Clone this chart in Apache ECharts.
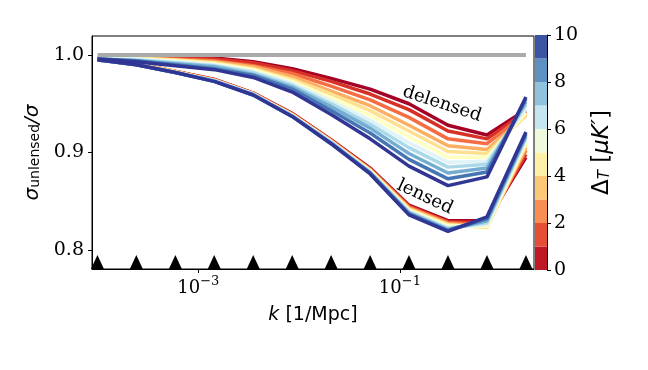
<!DOCTYPE html>
<html lang="en">
<head>
<meta charset="UTF-8">
<title>sigma ratio vs k</title>
<style>
    body { margin: 0; background: #fff; }
    #main { width: 648px; height: 370px; }
</style>
<script src="https://cdnjs.cloudflare.com/ajax/libs/echarts/6.0.0/echarts.min.js"></script>
</head>
<body>
<div id="main"></div>
<script>
// k bins [1/Mpc], also where the triangle markers sit
const kValues = [1.0e-4, 2.43e-4, 5.93e-4, 1.44e-3, 3.51e-3, 8.55e-3, 2.08e-2, 5.07e-2, 0.123, 0.300, 0.731, 1.78];

// noise levels Delta_T [uK'], one curve per level
const noiseLevels = [0, 1, 2, 3, 4, 5, 6, 7, 8, 9, 10];

// sigma_unlensed / sigma after delensing, row = noise level
const delensed = [
    [0.997, 0.998, 0.998, 0.997, 0.993, 0.986, 0.976, 0.965, 0.950, 0.928, 0.918, 0.944],
    [0.997, 0.998, 0.997, 0.996, 0.992, 0.984, 0.973, 0.960, 0.944, 0.922, 0.914, 0.942],
    [0.997, 0.997, 0.996, 0.994, 0.989, 0.981, 0.968, 0.954, 0.936, 0.914, 0.909, 0.940],
    [0.997, 0.997, 0.995, 0.993, 0.988, 0.978, 0.963, 0.948, 0.928, 0.907, 0.903, 0.938],
    [0.997, 0.997, 0.995, 0.992, 0.986, 0.975, 0.960, 0.943, 0.922, 0.901, 0.899, 0.938],
    [0.997, 0.996, 0.994, 0.991, 0.985, 0.973, 0.956, 0.938, 0.916, 0.895, 0.895, 0.941],
    [0.996, 0.996, 0.993, 0.990, 0.983, 0.971, 0.953, 0.933, 0.910, 0.890, 0.891, 0.945],
    [0.996, 0.995, 0.992, 0.989, 0.982, 0.969, 0.950, 0.929, 0.905, 0.885, 0.888, 0.949],
    [0.996, 0.994, 0.991, 0.988, 0.980, 0.967, 0.947, 0.925, 0.899, 0.879, 0.884, 0.952],
    [0.996, 0.994, 0.990, 0.986, 0.979, 0.965, 0.943, 0.920, 0.893, 0.873, 0.880, 0.955],
    [0.996, 0.993, 0.989, 0.985, 0.977, 0.962, 0.939, 0.914, 0.886, 0.866, 0.875, 0.957]
];

// same ratio for the lensed case
const lensed = [
    [0.995, 0.991, 0.983, 0.975, 0.961, 0.940, 0.913, 0.884, 0.846, 0.830, 0.830, 0.895],
    [0.995, 0.991, 0.983, 0.975, 0.961, 0.940, 0.913, 0.883, 0.845, 0.829, 0.828, 0.898],
    [0.995, 0.991, 0.983, 0.975, 0.961, 0.939, 0.912, 0.883, 0.844, 0.828, 0.826, 0.902],
    [0.995, 0.991, 0.983, 0.974, 0.960, 0.939, 0.912, 0.882, 0.843, 0.827, 0.824, 0.905],
    [0.995, 0.991, 0.983, 0.974, 0.960, 0.939, 0.911, 0.882, 0.842, 0.826, 0.823, 0.908],
    [0.995, 0.990, 0.982, 0.974, 0.960, 0.938, 0.911, 0.881, 0.841, 0.825, 0.824, 0.910],
    [0.995, 0.990, 0.982, 0.974, 0.960, 0.938, 0.911, 0.880, 0.840, 0.823, 0.826, 0.913],
    [0.995, 0.990, 0.982, 0.974, 0.960, 0.938, 0.910, 0.880, 0.839, 0.822, 0.828, 0.915],
    [0.995, 0.990, 0.982, 0.973, 0.959, 0.937, 0.910, 0.879, 0.838, 0.821, 0.830, 0.917],
    [0.995, 0.990, 0.982, 0.973, 0.959, 0.937, 0.909, 0.879, 0.837, 0.820, 0.832, 0.919],
    [0.995, 0.990, 0.982, 0.973, 0.959, 0.937, 0.909, 0.878, 0.836, 0.819, 0.834, 0.921]
];

const lineColors = ['#a50026', '#d73027', '#f46d43', '#fdae61', '#fee090', '#ffffbf',
    '#e0f3f8', '#abd9e9', '#74add1', '#4575b4', '#313695'];
const binColors = ['#be1826', '#e64f35', '#f88e52', '#fdc778', '#feefa7',
    '#eff9db', '#c5e6f0', '#8fc3dd', '#5c91c2', '#3b55a4'];

const yTicks = [0.8, 0.9, 1.0];
const xTicks = [1e-3, 1e-1];
const referenceLevel = 1.0;
const markerLevel = 0.7877;

const chart = echarts.init(document.getElementById('main'), null, { renderer: 'canvas' });

const serif = 'DejaVu Serif';
const sans = 'DejaVu Sans';

function expOf(v) {
    return v > 0 ? Math.round(Math.log10(v)) : Math.round(v);
}

const series = [];
noiseLevels.forEach((d, i) => {
    [lensed[i], delensed[i]].forEach((row) => {
        series.push({
            type: 'line',
            xAxisIndex: 0,
            yAxisIndex: 0,
            data: kValues.map((k, j) => [k, row[j]]),
            symbol: 'none',
            lineStyle: { color: lineColors[i], width: 3.5 },
            silent: true,
            z: 2
        });
    });
});

series.push({
    type: 'line',
    xAxisIndex: 0,
    yAxisIndex: 0,
    data: kValues.map(k => [k, referenceLevel]),
    symbol: 'none',
    lineStyle: { color: '#aaaaaa', width: 4 },
    silent: true,
    z: 3
});

series.push({
    type: 'scatter',
    xAxisIndex: 0,
    yAxisIndex: 0,
    data: kValues.map(k => [k, markerLevel]),
    symbol: 'triangle',
    symbolSize: [13, 14],
    itemStyle: { color: '#000', opacity: 1 },
    silent: true,
    z: 4
});

// colorbar: one stacked block per noise bin
binColors.forEach((c, i) => {
    series.push({
        type: 'bar',
        xAxisIndex: 1,
        yAxisIndex: 1,
        stack: 'cbar',
        data: [noiseLevels[i + 1] - noiseLevels[i]],
        barWidth: '100%',
        itemStyle: { color: c },
        silent: true
    });
});

const option = {
    animation: false,
    backgroundColor: '#fff',
    grid: [
        { left: 92, right: 114, top: 36, bottom: 101, show: true, borderColor: '#000', borderWidth: 1, backgroundColor: 'transparent' },
        { left: 535, width: 12, top: 35, height: 235 }
    ],
    xAxis: [
        {
            type: 'log',
            gridIndex: 0,
            min: 8.83e-5,
            max: 2.14,
            name: '{i|k} [1/Mpc]',
            nameLocation: 'middle',
            nameGap: 37,
            nameTextStyle: {
                fontFamily: sans, fontSize: 19, color: '#000',
                rich: { i: { fontFamily: sans, fontSize: 19, fontStyle: 'italic', color: '#000' } }
            },
            axisLine: { show: true, lineStyle: { color: '#000', width: 1 } },
            axisTick: { show: true, length: 4, lineStyle: { color: '#000' }, customValues: xTicks },
            axisLabel: {
                customValues: xTicks,
                margin: 6,
                formatter: (v) => '{b|10}{s|\u2212' + Math.abs(expOf(v)) + '}',
                rich: {
                    b: { fontFamily: serif, fontSize: 18, color: '#000', verticalAlign: 'bottom' },
                    s: { fontFamily: serif, fontSize: 13, color: '#000', verticalAlign: 'bottom', padding: [0, 0, 9, 0] }
                }
            },
            minorTick: { show: false },
            splitLine: { show: false }
        },
        {
            type: 'category',
            gridIndex: 1,
            data: ['c'],
            show: false
        }
    ],
    yAxis: [
        {
            type: 'value',
            gridIndex: 0,
            min: 0.7805,
            max: 1.0195,
            name: '{s|\u03c3}{sub|unlensed}{s|/\u03c3}',
            nameLocation: 'middle',
            nameRotate: 90,
            nameGap: 44,
            nameTextStyle: {
                rich: {
                    s: { fontFamily: sans, fontSize: 20, fontStyle: 'italic', color: '#000', padding: [0, 0, 5, 0] },
                    sub: { fontFamily: sans, fontSize: 14, color: '#000' }
                }
            },
            axisLine: { show: true, lineStyle: { color: '#000', width: 1 } },
            axisTick: { show: true, length: 4, lineStyle: { color: '#000' }, customValues: yTicks },
            axisLabel: {
                customValues: yTicks,
                margin: 8,
                fontFamily: serif,
                fontSize: 19,
                color: '#000',
                formatter: (v) => v.toFixed(1)
            },
            splitLine: { show: false }
        },
        {
            type: 'value',
            gridIndex: 1,
            position: 'right',
            min: 0,
            max: 10,
            interval: 2,
            name: '{s|\u0394}{sub|T}{s| [}{i|\u03bcK\u2032}{s|]}',
            nameLocation: 'middle',
            nameRotate: 90,
            nameGap: 44,
            nameTextStyle: {
                rich: {
                    s: { fontFamily: sans, fontSize: 23, color: '#000', padding: [0, 0, 5, 0] },
                    i: { fontFamily: sans, fontSize: 23, fontStyle: 'italic', color: '#000', padding: [0, 0, 5, 0] },
                    sub: { fontFamily: sans, fontSize: 15, fontStyle: 'italic', color: '#000' }
                }
            },
            axisLine: { show: true, lineStyle: { color: '#000', width: 1 } },
            axisTick: { show: true, length: 4, lineStyle: { color: '#000' } },
            axisLabel: { margin: 7, fontFamily: serif, fontSize: 19, color: '#000' },
            splitLine: { show: false }
        }
    ],
    graphic: [
        {
            type: 'text',
            x: 442, y: 104,
            rotation: -18 * Math.PI / 180,
            style: { text: 'delensed', font: '18px "DejaVu Serif"', fill: '#000', textAlign: 'center', textVerticalAlign: 'middle' },
            z: 10
        },
        {
            type: 'text',
            x: 425, y: 197,
            rotation: -25 * Math.PI / 180,
            style: { text: 'lensed', font: '18px "DejaVu Serif"', fill: '#000', textAlign: 'center', textVerticalAlign: 'middle' },
            z: 10
        }
    ],
    series: series
};

chart.setOption(option);
</script>
</body>
</html>
